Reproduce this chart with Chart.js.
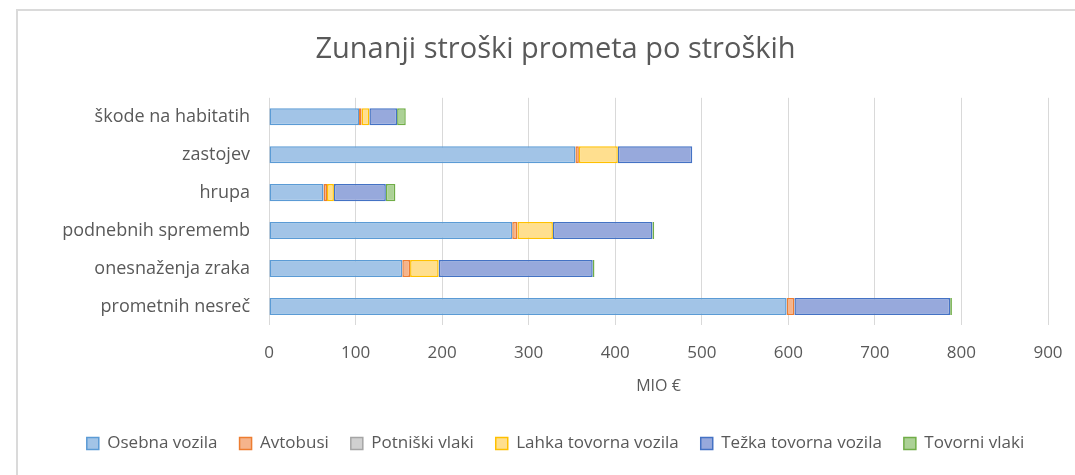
<!DOCTYPE html>
<html>
<head>
<meta charset="utf-8">
<script src="https://cdn.jsdelivr.net/npm/chart.js@4"></script>
<style>
  body { margin: 0; background: #fff; overflow: hidden; }
  #box {
    position: absolute; left: 16px; top: 9px;
    width: 1100px; height: 500px;
    border: 2px solid #dadada; background: #fff;
  }
  #wrap { position: absolute; left: 0; top: 0; width: 1075px; height: 451px; }
</style>
</head>
<body>
<div id="box"><div id="wrap"><canvas id="costs"></canvas></div></div>
<script>
// kategorije stroškov (od zgoraj navzdol)
const categories = ['škode na habitatih', 'zastojev', 'hrupa', 'podnebnih sprememb', 'onesnaženja zraka', 'prometnih nesreč'];

// MIO € po vrsti prometa
const osebnaVozila = [104, 354, 63, 281, 154, 598];
const avtobusi = [3, 4, 4, 6, 9, 9];
const potniskiVlaki = [0, 0, 0, 0, 0, 0];
const lahkaTovorna = [9, 45, 8, 41, 33, 0];
const tezkaTovorna = [32, 86, 60, 115, 178, 180];
const tovorniVlaki = [10, 0, 11, 2, 2, 2];

const xTicks = [0, 100, 200, 300, 400, 500, 600, 700, 800, 900];

const txt = '#595959';
const font = '"Open Sans", sans-serif';

function series(label, data, fill, line) {
    return {
        label: label,
        data: data,
        backgroundColor: fill,
        borderColor: line,
        borderWidth: 1.5,
        borderSkipped: false
    };
}

const data = {
    labels: categories,
    datasets: [
        series('Osebna vozila', osebnaVozila, '#a2c4e7', '#5b9bd5'),
        series('Avtobusi', avtobusi, '#f5b48c', '#ed7d31'),
        series('Potniški vlaki', potniskiVlaki, '#d0d0d0', '#a5a5a5'),
        series('Lahka tovorna vozila', lahkaTovorna, '#ffdf8f', '#ffc000'),
        series('Težka tovorna vozila', tezkaTovorna, '#97a9dc', '#4472c4'),
        series('Tovorni vlaki', tovorniVlaki, '#acd196', '#70ad47')
    ]
};

new Chart(document.getElementById('costs'), {
    type: 'bar',
    data: data,
    options: {
        indexAxis: 'y',
        responsive: true,
        maintainAspectRatio: false,
        animation: false,
        datasets: { bar: { barPercentage: 0.9, categoryPercentage: 0.5 } },
        layout: { padding: { left: 45, right: 45, top: 0, bottom: 0 } },
        plugins: {
            title: {
                display: true,
                text: 'Zunanji stroški prometa po stroških',
                color: txt,
                font: { family: font, size: 29, weight: 'normal' },
                padding: { top: 21, bottom: 31 }
            },
            legend: {
                position: 'bottom',
                labels: {
                    color: txt,
                    font: { family: font, size: 17 },
                    boxWidth: 12,
                    boxHeight: 12,
                    padding: 22
                }
            },
            tooltip: { enabled: false }
        },
        scales: {
            x: {
                stacked: true,
                min: 0,
                max: 900,
                afterBuildTicks: s => { s.ticks = xTicks.map(v => ({ value: v })); },
                grid: { color: '#d9d9d9', lineWidth: 1, drawTicks: false },
                border: { display: false },
                ticks: { color: txt, font: { family: font, size: 17 }, padding: 18 },
                title: {
                    display: true,
                    text: 'MIO €',
                    color: txt,
                    font: { family: font, size: 16 },
                    padding: { top: -5, bottom: 17 }
                }
            },
            y: {
                stacked: true,
                afterFit: s => { s.width = 206; },
                grid: { display: false, drawTicks: false },
                border: { display: false },
                ticks: { color: txt, font: { family: font, size: 18 }, padding: 19 }
            }
        }
    }
});
</script>
</body>
</html>
